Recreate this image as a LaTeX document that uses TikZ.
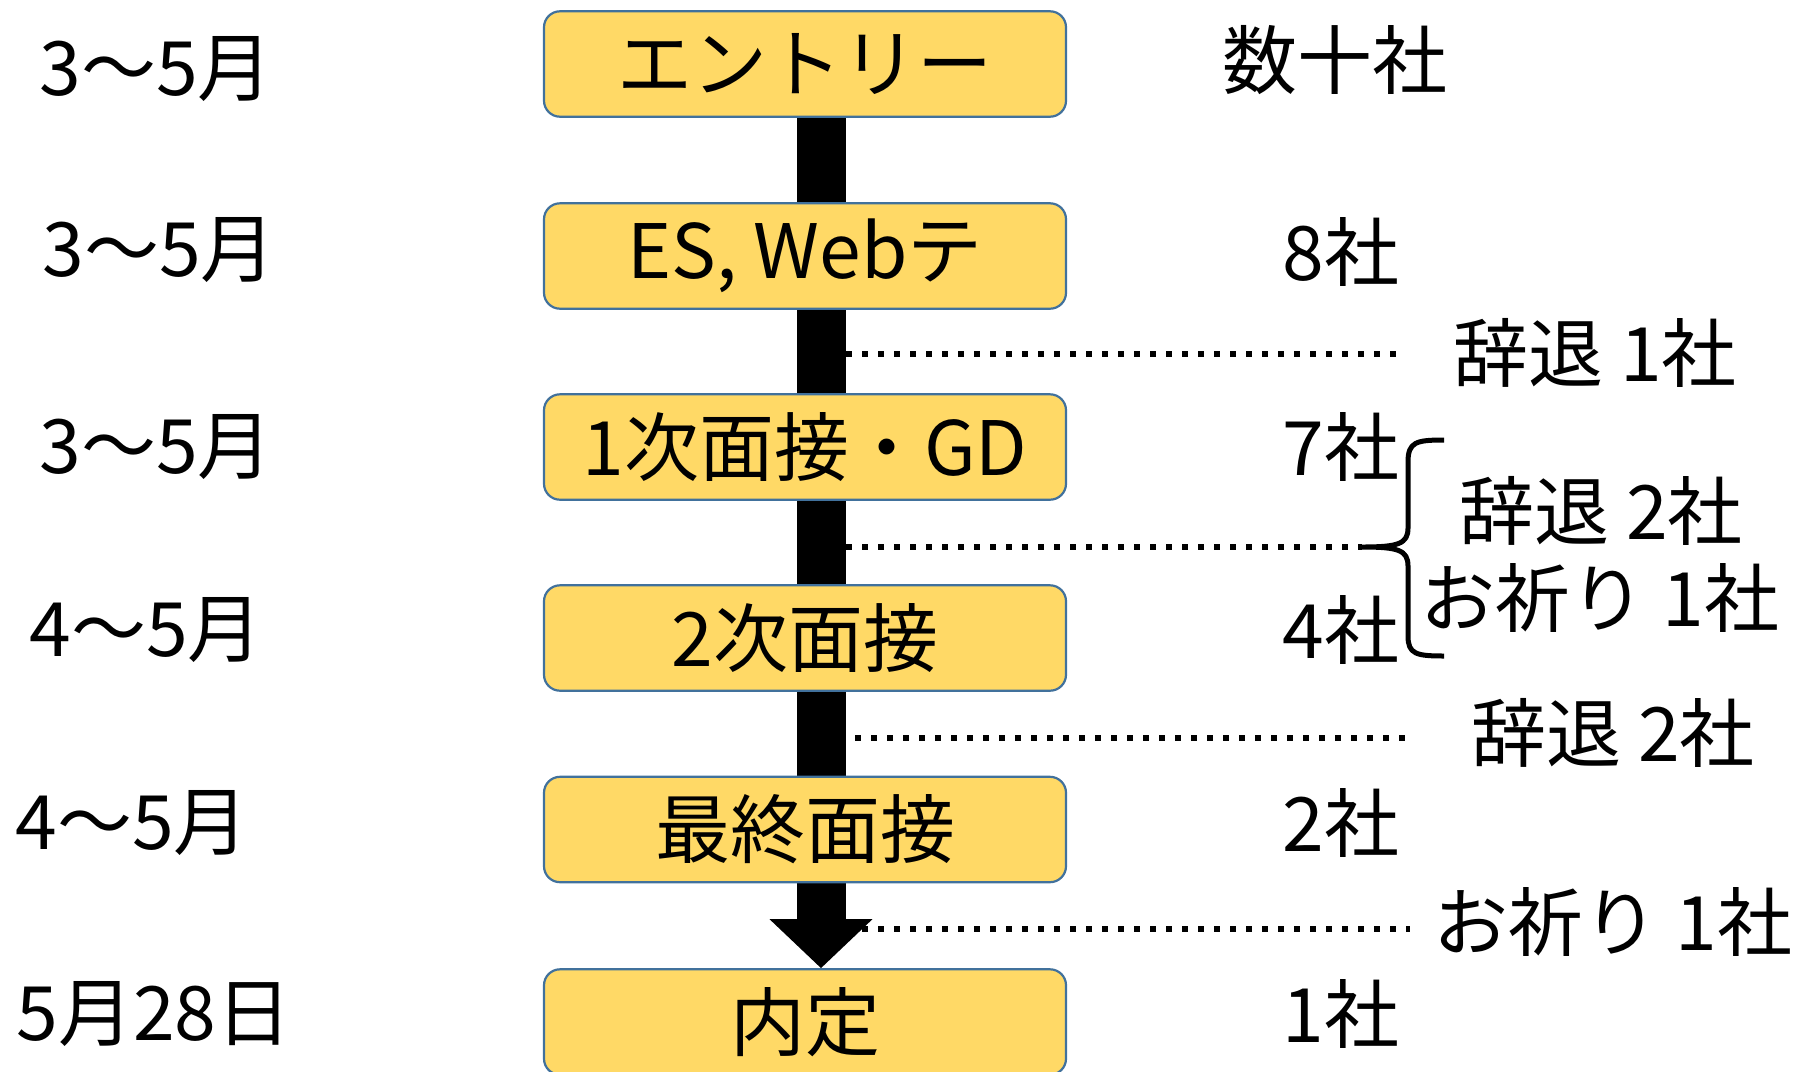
\documentclass[tikz,border=0pt]{standalone}
\usepackage{fontspec}
\setmainfont{Noto Sans CJK JP}
\usetikzlibrary{arrows.meta,backgrounds}
\definecolor{boxyellow}{HTML}{FFD966}
\definecolor{boxblue}{HTML}{41719C}
\newcommand\mybigfont{\fontsize{37.5pt}{42pt}\selectfont}
\begin{document}
\begin{tikzpicture}[x=0.5pt,y=-0.5pt,
  stage/.style={draw=boxblue, line width=1.1pt, fill=boxyellow, rounded corners=8pt,
    minimum width=261pt, minimum height=52.7pt, inner sep=0pt, font=\mybigfont},
  lbl/.style={inner sep=0pt, font=\mybigfont},
  dotline/.style={line width=3.3pt, dash pattern=on 3.2pt off 4.8pt},
  flow/.style={line width=24.5pt, -{Triangle[length=24.5pt,width=50pt]}},
  bracestyle/.style={line width=2.5pt, line join=round}
]
\useasboundingbox (0,0) rectangle (1797,1071);
% stages
\node[stage] (s1) at (805,64) {エントリー};
\node[stage] (s2) at (805,256) {ES, Webテ};
\node[stage] (s3) at (805,447) {1次面接・GD};
\node[stage] (s4) at (805,638) {2次面接};
\node[stage] (s5) at (805,829.5) {最終面接};
\node[stage] (s6) at (805,1022) {内定};
% arrow behind the stages
\coordinate (ax) at (821,0);
\begin{scope}[on background layer]
  \draw[flow] (s1.south -| ax) -- (s6.north -| ax);
\end{scope}
% left dates
\node[lbl] (t1) at (156,69) {3〜5月};
\node[lbl] (t2) at (159,250) {3〜5月};
\node[lbl] (t3) at (156,447) {3〜5月};
\node[lbl] (t4) at (146,630) {4〜5月};
\node[lbl] (t5) at (132,823) {4〜5月};
\node[lbl] (t6) at (154,1014) {5月28日};
% counts
\node[lbl] (c1) at (1335,60) {数十社};
\node[lbl, anchor=east] (c2) at (1400,252) {8社};
\node[lbl, anchor=east] (c3) at (1400,447) {7社};
\node[lbl, anchor=east] (c4) at (1400,630) {4社};
\node[lbl, anchor=east] (c5) at (1400,823) {2社};
\node[lbl, anchor=east] (c6) at (1400,1014) {1社};
% drop-outs
\node[lbl] (r1) at (1595,353) {辞退 1社};
\node[lbl] (r2) at (1601,511) {辞退 2社};
\node[lbl] (r3) at (1600,598) {お祈り 1社};
\node[lbl] (r4) at (1613,733) {辞退 2社};
\node[lbl] (r5) at (1613,922) {お祈り 1社};
% dotted leaders
\coordinate (d1a) at (846,354); \coordinate (d1b) at (1396,354);
\coordinate (d2a) at (846,547); \coordinate (d2b) at (1362,547);
\coordinate (d3a) at (855,738); \coordinate (d3b) at (1407,738);
\coordinate (d4a) at (862,929); \coordinate (d4b) at (1410,929);
\draw[dotline] (d1a) -- (d1b);
\draw[dotline] (d2a) -- (d2b);
\draw[dotline] (d3a) -- (d3b);
\draw[dotline] (d4a) -- (d4b);
% brace
\draw[bracestyle] (1444,440) .. controls (1416,440) and (1408,442) .. (1408,462)
  -- (1408,528) .. controls (1408,544) and (1398,547) .. (d2b)
  (d2b) .. controls (1398,547) and (1408,550) .. (1408,566)
  -- (1408,636) .. controls (1408,654) and (1416,656) .. (1444,656);
\end{tikzpicture}
\end{document}
